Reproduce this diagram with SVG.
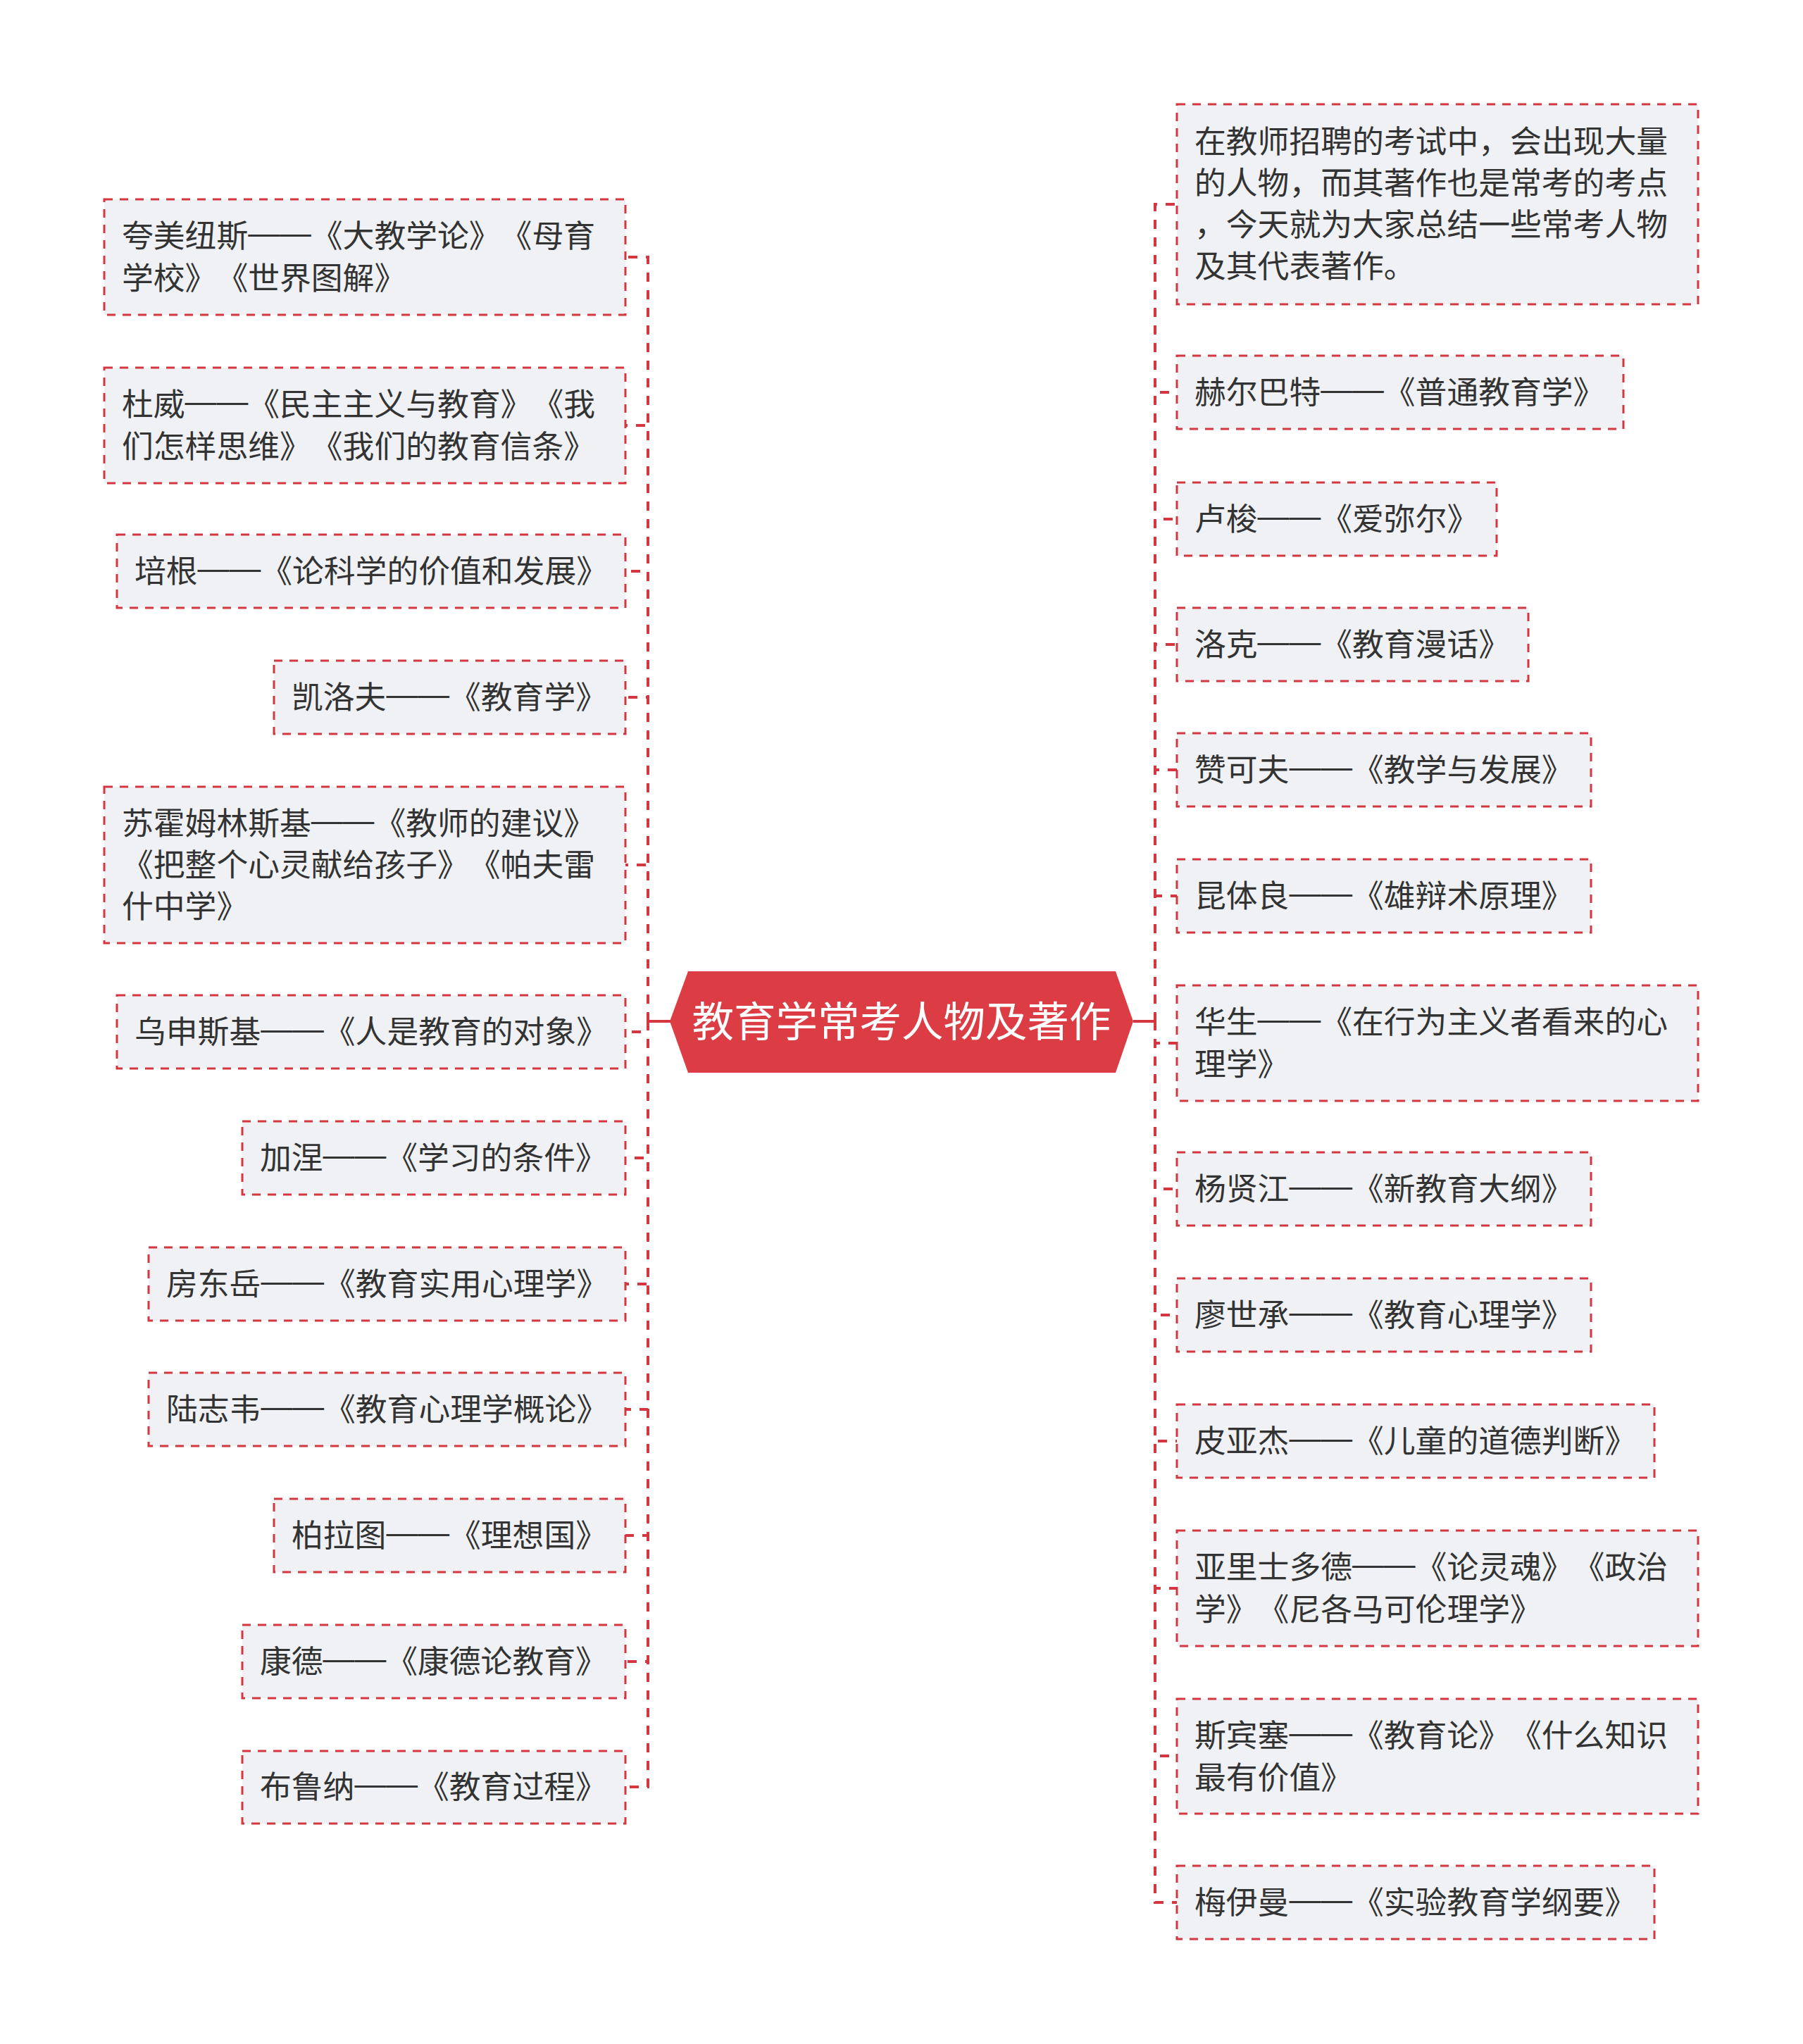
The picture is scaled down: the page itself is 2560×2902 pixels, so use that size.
<svg xmlns="http://www.w3.org/2000/svg" width="2560" height="2902" viewBox="0 0 2560 2902">
<style>
.bg{fill:#ffffff}
.box{fill:#eff1f5;stroke:#d4373f;stroke-width:3;stroke-dasharray:12 10}
.t{font-family:"Noto Sans CJK SC","Noto Sans CJK TC",sans-serif;font-size:44.8px;fill:#333333}
.d{font-family:"Liberation Sans",Arial,sans-serif;baseline-shift:5px}
.conn{fill:none;stroke:#d4373f;stroke-width:4;stroke-dasharray:13 12}
.solid{fill:none;stroke:#d4373f;stroke-width:4}
.root{fill:#dc3d45}
.rt{font-family:"Noto Sans CJK SC","Noto Sans CJK TC",sans-serif;font-size:59.5px;fill:#ffffff}
</style>
<rect class="bg" x="0" y="0" width="2560" height="2902"/>
<g id="connectors">
<path class="solid" d="M952 1450 H920"/>
<path class="solid" d="M1609 1450 H1640"/>
<path class="conn" d="M920 1450 V365 H888"/>
<path class="conn" d="M920 1450 V604 H888"/>
<path class="conn" d="M920 1450 V811 H888"/>
<path class="conn" d="M920 1450 V990 H888"/>
<path class="conn" d="M920 1450 V1228 H888"/>
<path class="conn" d="M920 1450 V1465 H888"/>
<path class="conn" d="M920 1450 V1644 H888"/>
<path class="conn" d="M920 1450 V1823 H888"/>
<path class="conn" d="M920 1450 V2001 H888"/>
<path class="conn" d="M920 1450 V2180 H888"/>
<path class="conn" d="M920 1450 V2359 H888"/>
<path class="conn" d="M920 1450 V2537 H888"/>
<path class="conn" d="M1640 1450 V290 H1671"/>
<path class="conn" d="M1640 1450 V557 H1671"/>
<path class="conn" d="M1640 1450 V737 H1671"/>
<path class="conn" d="M1640 1450 V915 H1671"/>
<path class="conn" d="M1640 1450 V1093 H1671"/>
<path class="conn" d="M1640 1450 V1272 H1671"/>
<path class="conn" d="M1640 1450 V1481 H1671"/>
<path class="conn" d="M1640 1450 V1688 H1671"/>
<path class="conn" d="M1640 1450 V1867 H1671"/>
<path class="conn" d="M1640 1450 V2046 H1671"/>
<path class="conn" d="M1640 1450 V2255 H1671"/>
<path class="conn" d="M1640 1450 V2493 H1671"/>
<path class="conn" d="M1640 1450 V2701 H1671"/>
</g>
<g id="root">
<polygon class="root" points="951,1450 977,1379 1584,1379 1609,1450 1584,1523 977,1523"/>
<text class="rt" x="1280" y="1472" text-anchor="middle">教育学常考人物及著作</text>
</g>
<g id="L1"><rect class="box" x="148" y="283" width="740" height="164"/>
<text class="t" x="173 217.8 262.6 307.4 352.2 397 441.8 486.6 531.4 576.2 621 665.8 710.6 755.4 800.2" y="351">夸美纽斯<tspan class="d">——</tspan>《大教学论》《母育</text>
<text class="t" x="173 217.8 262.6 307.4 352.2 397 441.8 486.6 531.4 576.2 621 665.8 710.6 755.4 800.2" y="411">学校》《世界图解》</text></g>
<g id="L2"><rect class="box" x="148" y="522" width="740" height="164"/>
<text class="t" x="173 217.8 262.6 307.4 352.2 397 441.8 486.6 531.4 576.2 621 665.8 710.6 755.4 800.2" y="590">杜威<tspan class="d">——</tspan>《民主主义与教育》《我</text>
<text class="t" x="173 217.8 262.6 307.4 352.2 397 441.8 486.6 531.4 576.2 621 665.8 710.6 755.4 800.2" y="650">们怎样思维》《我们的教育信条》</text></g>
<g id="L3"><rect class="box" x="166" y="759" width="722" height="104"/>
<text class="t" x="191 235.8 280.6 325.4 370.2 415 459.8 504.6 549.4 594.2 639 683.8 728.6 773.4 818.2" y="827">培根<tspan class="d">——</tspan>《论科学的价值和发展》</text></g>
<g id="L4"><rect class="box" x="389" y="938" width="499" height="104"/>
<text class="t" x="414 458.8 503.6 548.4 593.2 638 682.8 727.6 772.4 817.2" y="1006">凯洛夫<tspan class="d">——</tspan>《教育学》</text></g>
<g id="L5"><rect class="box" x="148" y="1117" width="740" height="222"/>
<text class="t" x="173 217.8 262.6 307.4 352.2 397 441.8 486.6 531.4 576.2 621 665.8 710.6 755.4 800.2" y="1185">苏霍姆林斯基<tspan class="d">——</tspan>《教师的建议》</text>
<text class="t" x="173 217.8 262.6 307.4 352.2 397 441.8 486.6 531.4 576.2 621 665.8 710.6 755.4 800.2" y="1244">《把整个心灵献给孩子》《帕夫雷</text>
<text class="t" x="173 217.8 262.6 307.4 352.2 397 441.8 486.6 531.4 576.2 621 665.8 710.6 755.4 800.2" y="1303">什中学》</text></g>
<g id="L6"><rect class="box" x="166" y="1413" width="722" height="104"/>
<text class="t" x="191 235.8 280.6 325.4 370.2 415 459.8 504.6 549.4 594.2 639 683.8 728.6 773.4 818.2" y="1481">乌申斯基<tspan class="d">——</tspan>《人是教育的对象》</text></g>
<g id="L7"><rect class="box" x="344" y="1592" width="544" height="104"/>
<text class="t" x="369 413.8 458.6 503.4 548.2 593 637.8 682.6 727.4 772.2 817" y="1660">加涅<tspan class="d">——</tspan>《学习的条件》</text></g>
<g id="L8"><rect class="box" x="211" y="1771" width="677" height="104"/>
<text class="t" x="236 280.8 325.6 370.4 415.2 460 504.8 549.6 594.4 639.2 684 728.8 773.6 818.4" y="1839">房东岳<tspan class="d">——</tspan>《教育实用心理学》</text></g>
<g id="L9"><rect class="box" x="211" y="1949" width="677" height="104"/>
<text class="t" x="236 280.8 325.6 370.4 415.2 460 504.8 549.6 594.4 639.2 684 728.8 773.6 818.4" y="2017">陆志韦<tspan class="d">——</tspan>《教育心理学概论》</text></g>
<g id="L10"><rect class="box" x="389" y="2128" width="499" height="104"/>
<text class="t" x="414 458.8 503.6 548.4 593.2 638 682.8 727.6 772.4 817.2" y="2196">柏拉图<tspan class="d">——</tspan>《理想国》</text></g>
<g id="L11"><rect class="box" x="344" y="2307" width="544" height="104"/>
<text class="t" x="369 413.8 458.6 503.4 548.2 593 637.8 682.6 727.4 772.2 817" y="2375">康德<tspan class="d">——</tspan>《康德论教育》</text></g>
<g id="L12"><rect class="box" x="344" y="2486" width="544" height="103"/>
<text class="t" x="369 413.8 458.6 503.4 548.2 593 637.8 682.6 727.4 772.2 817" y="2553">布鲁纳<tspan class="d">——</tspan>《教育过程》</text></g>
<g id="R1"><rect class="box" x="1671" y="148" width="740" height="284"/>
<text class="t" x="1696 1740.8 1785.6 1830.4 1875.2 1920 1964.8 2009.6 2054.4 2099.2 2144 2188.8 2233.6 2278.4 2323.2" y="217">在教师招聘的考试中，会出现大量</text>
<text class="t" x="1696 1740.8 1785.6 1830.4 1875.2 1920 1964.8 2009.6 2054.4 2099.2 2144 2188.8 2233.6 2278.4 2323.2" y="276">的人物，而其著作也是常考的考点</text>
<text class="t" x="1696 1740.8 1785.6 1830.4 1875.2 1920 1964.8 2009.6 2054.4 2099.2 2144 2188.8 2233.6 2278.4 2323.2" y="335">，今天就为大家总结一些常考人物</text>
<text class="t" x="1696 1740.8 1785.6 1830.4 1875.2 1920 1964.8 2009.6 2054.4 2099.2 2144 2188.8 2233.6 2278.4 2323.2" y="394">及其代表著作。</text></g>
<g id="R2"><rect class="box" x="1671" y="505" width="634" height="104"/>
<text class="t" x="1696 1740.8 1785.6 1830.4 1875.2 1920 1964.8 2009.6 2054.4 2099.2 2144 2188.8 2233.6 2278.4 2323.2" y="573">赫尔巴特<tspan class="d">——</tspan>《普通教育学》</text></g>
<g id="R3"><rect class="box" x="1671" y="685" width="454" height="104"/>
<text class="t" x="1696 1740.8 1785.6 1830.4 1875.2 1920 1964.8 2009.6 2054.4 2099.2 2144 2188.8 2233.6 2278.4 2323.2" y="753">卢梭<tspan class="d">——</tspan>《爱弥尔》</text></g>
<g id="R4"><rect class="box" x="1671" y="863" width="499" height="104"/>
<text class="t" x="1696 1740.8 1785.6 1830.4 1875.2 1920 1964.8 2009.6 2054.4 2099.2 2144 2188.8 2233.6 2278.4 2323.2" y="931">洛克<tspan class="d">——</tspan>《教育漫话》</text></g>
<g id="R5"><rect class="box" x="1671" y="1041" width="588" height="104"/>
<text class="t" x="1696 1740.8 1785.6 1830.4 1875.2 1920 1964.8 2009.6 2054.4 2099.2 2144 2188.8 2233.6 2278.4 2323.2" y="1109">赞可夫<tspan class="d">——</tspan>《教学与发展》</text></g>
<g id="R6"><rect class="box" x="1671" y="1220" width="588" height="104"/>
<text class="t" x="1696 1740.8 1785.6 1830.4 1875.2 1920 1964.8 2009.6 2054.4 2099.2 2144 2188.8 2233.6 2278.4 2323.2" y="1288">昆体良<tspan class="d">——</tspan>《雄辩术原理》</text></g>
<g id="R7"><rect class="box" x="1671" y="1399" width="740" height="164"/>
<text class="t" x="1696 1740.8 1785.6 1830.4 1875.2 1920 1964.8 2009.6 2054.4 2099.2 2144 2188.8 2233.6 2278.4 2323.2" y="1467">华生<tspan class="d">——</tspan>《在行为主义者看来的心</text>
<text class="t" x="1696 1740.8 1785.6 1830.4 1875.2 1920 1964.8 2009.6 2054.4 2099.2 2144 2188.8 2233.6 2278.4 2323.2" y="1527">理学》</text></g>
<g id="R8"><rect class="box" x="1671" y="1636" width="588" height="104"/>
<text class="t" x="1696 1740.8 1785.6 1830.4 1875.2 1920 1964.8 2009.6 2054.4 2099.2 2144 2188.8 2233.6 2278.4 2323.2" y="1704">杨贤江<tspan class="d">——</tspan>《新教育大纲》</text></g>
<g id="R9"><rect class="box" x="1671" y="1815" width="588" height="104"/>
<text class="t" x="1696 1740.8 1785.6 1830.4 1875.2 1920 1964.8 2009.6 2054.4 2099.2 2144 2188.8 2233.6 2278.4 2323.2" y="1883">廖世承<tspan class="d">——</tspan>《教育心理学》</text></g>
<g id="R10"><rect class="box" x="1671" y="1994" width="678" height="104"/>
<text class="t" x="1696 1740.8 1785.6 1830.4 1875.2 1920 1964.8 2009.6 2054.4 2099.2 2144 2188.8 2233.6 2278.4 2323.2" y="2062">皮亚杰<tspan class="d">——</tspan>《儿童的道德判断》</text></g>
<g id="R11"><rect class="box" x="1671" y="2173" width="740" height="164"/>
<text class="t" x="1696 1740.8 1785.6 1830.4 1875.2 1920 1964.8 2009.6 2054.4 2099.2 2144 2188.8 2233.6 2278.4 2323.2" y="2241">亚里士多德<tspan class="d">——</tspan>《论灵魂》《政治</text>
<text class="t" x="1696 1740.8 1785.6 1830.4 1875.2 1920 1964.8 2009.6 2054.4 2099.2 2144 2188.8 2233.6 2278.4 2323.2" y="2301">学》《尼各马可伦理学》</text></g>
<g id="R12"><rect class="box" x="1671" y="2412" width="740" height="163"/>
<text class="t" x="1696 1740.8 1785.6 1830.4 1875.2 1920 1964.8 2009.6 2054.4 2099.2 2144 2188.8 2233.6 2278.4 2323.2" y="2480">斯宾塞<tspan class="d">——</tspan>《教育论》《什么知识</text>
<text class="t" x="1696 1740.8 1785.6 1830.4 1875.2 1920 1964.8 2009.6 2054.4 2099.2 2144 2188.8 2233.6 2278.4 2323.2" y="2540">最有价值》</text></g>
<g id="R13"><rect class="box" x="1671" y="2649" width="678" height="104"/>
<text class="t" x="1696 1740.8 1785.6 1830.4 1875.2 1920 1964.8 2009.6 2054.4 2099.2 2144 2188.8 2233.6 2278.4 2323.2" y="2717">梅伊曼<tspan class="d">——</tspan>《实验教育学纲要》</text></g>
</svg>
